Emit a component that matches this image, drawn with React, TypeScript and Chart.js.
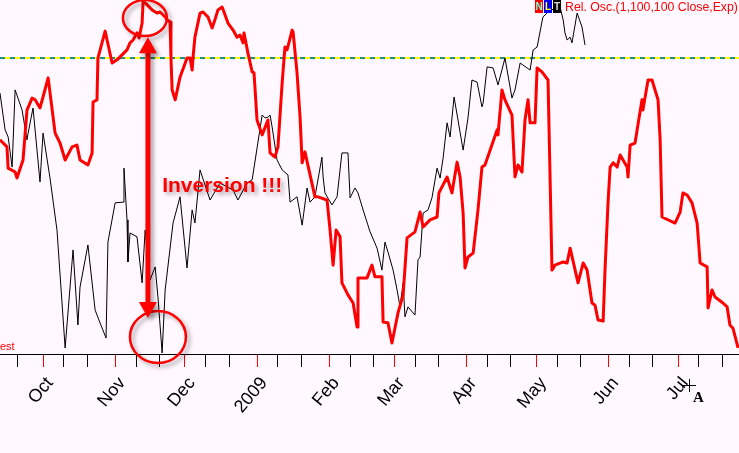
import { useEffect, useRef } from 'react';
import { Chart, registerables } from 'chart.js';

Chart.register(...registerables);

// x = calendar days since 2008-10-01, y = oscillator units (0..100)
const xMinDay = -18.5;
const xMaxDay = 299.2;

const monthTickDays = [0, 31, 61, 92, 123, 151, 182, 212, 243, 273];
const monthTickLabels = ['Oct', 'Nov', 'Dec', '2009', 'Feb', 'Mar', 'Apr', 'May', 'Jun', 'Jul'];
const minorTickDays = [-11, 9, 19, 40, 50, 70, 80, 101, 111, 132, 142, 160, 170, 191, 201, 221, 231, 252, 262, 282, 292];

const levelValue = 83.6;

// Rel. Osc.(1,100,100 Close,Exp) — [day, value]
const relOscSeries: [number, number][] = [
  [-18.5, 60.5], [-15.5, 58.5], [-15.0, 52.5], [-12.0, 51.4], [-11.2, 49.7], [-8.6, 54.8], [-6.9, 68.9], [-4.7, 72.3], [-3.4, 71.8], [-1.3, 69.5],
  [0, 72.6], [2.2, 78.0], [5.2, 62.4], [7.3, 59.6], [9.5, 54.8], [12.5, 58.5], [14.6, 59.0], [15.9, 54.8], [19.3, 53.4], [21.1, 56.8],
  [21.5, 71.2], [23.2, 71.8], [23.6, 83.6], [26.7, 91.2], [29.7, 82.2], [31.8, 83.1], [36.1, 85.9], [37.4, 87.9], [38.7, 88.7], [40.4, 90.7],
  [41.3, 89.3], [42.6, 93.5], [43.0, 99.4], [43.9, 99.2], [46.9, 97.2], [49.0, 96.3], [50.3, 96.6], [52.5, 95.2], [53.3, 94.4], [54.6, 93.8],
  [55.0, 83.6], [55.5, 74.6], [56.8, 71.8], [58.9, 78.2], [61.9, 83.6], [63.2, 83.6], [64.1, 80.2], [64.5, 83.9], [65.3, 89.5], [67.5, 96.3],
  [68.8, 96.6], [70.9, 95.2], [72.7, 92.1], [73.9, 94.4], [75.2, 97.2], [77.0, 98.0], [79.5, 93.5], [81.7, 91.5], [83.4, 89.5], [84.7, 90.1],
  [86.0, 87.9], [86.4, 90.7], [88.1, 85.0], [89.9, 79.7], [90.7, 79.4], [92.0, 66.1], [94.2, 61.9], [96.7, 66.1], [97.6, 56.8], [99.7, 55.6],
  [101.0, 58.5], [102.8, 76.6], [104.0, 86.7], [104.9, 85.9], [107.1, 91.5], [107.5, 91.0], [109.2, 79.4], [110.5, 66.9], [111.4, 54.0], [112.6, 57.1],
  [114.8, 50.6], [116.9, 44.4], [118.2, 44.4], [122.1, 43.5], [123.4, 35.0], [124.7, 25.1], [126.0, 35.0], [127.7, 33.1], [128.5, 20.1], [131.1, 16.7],
  [133.3, 14.4], [135.0, 7.6], [135.4, 21.5], [139.3, 21.5], [141.4, 25.1], [142.7, 21.8], [145.7, 21.8], [146.2, 9.0], [148.3, 8.8], [150.0, 3.1],
  [152.6, 11.6], [154.8, 16.7], [156.5, 32.8], [159.9, 34.5], [162.1, 40.1], [163.4, 35.9], [166.4, 37.9], [169.4, 38.7], [170.2, 45.5], [173.7, 50.0],
  [175.8, 45.5], [178.0, 54.2], [179.3, 50.0], [180.6, 39.8], [181.4, 24.3], [182.7, 27.4], [184.9, 28.5], [187.0, 40.7], [188.7, 52.8], [190.0, 53.4],
  [195.2, 63.3], [195.6, 61.9], [197.3, 74.6], [198.6, 71.8], [201.6, 67.5], [202.9, 50.0], [204.2, 53.4], [205.9, 51.4], [207.2, 66.1], [208.5, 71.8],
  [209.4, 65.3], [211.5, 65.3], [212.4, 80.8], [214.5, 79.7], [217.1, 77.4], [218.0, 49.2], [218.8, 23.7], [220.1, 25.1], [223.6, 26.0], [225.3, 25.7],
  [226.6, 29.9], [230.0, 20.1], [232.2, 25.7], [233.9, 23.7], [236.0, 14.4], [237.3, 13.8], [238.6, 9.6], [240.8, 9.3], [241.6, 23.7], [242.9, 42.7],
  [243.8, 52.8], [245.1, 54.0], [246.8, 52.8], [248.1, 56.2], [251.1, 52.8], [251.5, 50.0], [252.4, 59.0], [254.5, 59.6], [257.5, 71.8], [257.9, 68.9],
  [260.1, 77.4], [261.8, 77.4], [264.4, 71.8], [265.3, 60.5], [266.1, 38.7], [271.7, 37.0], [273.9, 40.1], [275.1, 45.5], [276.9, 44.9], [279.0, 42.7],
  [281.2, 37.0], [282.5, 25.7], [285.5, 24.6], [285.9, 13.0], [287.6, 18.1], [288.9, 16.1], [292.3, 14.4], [294.1, 13.3], [295.3, 8.2], [296.6, 7.3], [298.8, 1.7],
];

// Price (black) — [day, value]
const priceSeries: [number, number][] = [
  [-18.5, 73.7], [-16.3, 63.3], [-15.0, 61.3], [-13.3, 52.8], [-12.0, 74.6], [-9.0, 68.9], [-6.9, 60.5], [-6.4, 62.4], [-4.3, 69.5], [-1.3, 48.6],
  [0, 62.4], [3.0, 49.7], [6.0, 35.0], [9.5, 1.7], [12.9, 29.4], [15.0, 8.2], [15.9, 18.9], [19.3, 30.8], [22.4, 12.4], [24.5, 8.8],
  [27.1, 4.5], [27.9, 31.6], [31.0, 42.7], [34.4, 42.9], [34.8, 52.5], [36.1, 37.9], [36.5, 26.0], [37.4, 34.2], [40.4, 33.1], [42.6, 20.1],
  [43.9, 35.0], [46.0, 20.9], [48.2, 24.6], [49.4, 16.1], [51.2, 0.3], [52.5, 18.1], [55.9, 37.0], [58.9, 44.4], [61.9, 24.3], [64.1, 40.7],
  [65.3, 37.0], [67.5, 52.0], [71.8, 43.5], [76.1, 48.3], [81.7, 46.3], [83.8, 43.5], [87.7, 48.3], [89.9, 49.2], [94.2, 67.5], [95.5, 66.7],
  [96.7, 66.9], [97.6, 67.5], [98.5, 64.1], [100.6, 54.8], [102.8, 52.0], [105.3, 50.6], [106.2, 42.9], [109.2, 44.4], [111.4, 36.4], [113.5, 46.9],
  [114.8, 42.9], [116.9, 44.4], [119.9, 55.6], [120.4, 50.0], [121.2, 45.5], [124.2, 42.1], [126.4, 44.4], [128.5, 56.8], [131.1, 56.8], [132.0, 44.1],
  [134.1, 46.9], [135.4, 45.5], [137.6, 40.7], [140.6, 34.5], [143.6, 29.9], [145.7, 23.7], [147.0, 31.6], [148.3, 28.8], [150.5, 23.7], [152.2, 18.1],
  [153.5, 13.3], [154.8, 20.1], [155.6, 10.5], [156.9, 13.3], [159.9, 11.0], [161.2, 26.6], [162.1, 27.4], [163.4, 39.8], [165.5, 40.7], [167.2, 44.1],
  [169.4, 52.5], [170.7, 49.7], [172.0, 55.4], [173.7, 65.3], [175.0, 61.3], [176.7, 72.6], [180.6, 57.6], [182.7, 66.7], [184.4, 77.4], [186.6, 76.8],
  [188.7, 69.8], [189.2, 70.9], [190.9, 81.1], [193.5, 80.8], [195.6, 76.0], [198.6, 83.6], [201.6, 72.3], [202.9, 74.6], [205.1, 82.2], [209.4, 80.2],
  [210.7, 85.9], [212.4, 86.7], [214.9, 95.2], [216.7, 96.3], [218.0, 98.0], [220.1, 96.6], [222.3, 98.0], [223.6, 94.4], [224.4, 90.7], [225.3, 88.7],
  [226.6, 89.5], [227.4, 87.9], [229.6, 96.3], [231.7, 92.4], [233.0, 87.3],
];

// annotation anchors in data units
const peakCircle = { day: 43.8, value: 94.9 };
const troughCircle = { day: 49.4, value: 4.8 };
const arrowSpan = { day: 45.1, top: 89.5, bottom: 10.2 };
const inversionText = { day: 51.2, value: 45.8, text: 'Inversion !!!' };
const indicatorTitle = 'Rel. Osc.(1,100,100 Close,Exp)';

const FONT = "'Liberation Sans', Arial, Helvetica, sans-serif";
const BG = '#FFF8FF';

const tickLabelFor = new Map<number, string>(monthTickDays.map((d, i) => [d, monthTickLabels[i]]));

const backgroundPlugin = {
  id: 'bg',
  beforeDraw(chart: any) {
    const { ctx, width, height } = chart;
    ctx.save();
    ctx.fillStyle = BG;
    ctx.fillRect(0, 0, width, height);
    ctx.restore();
  },
};

const annotationPlugin = {
  id: 'annot',
  afterDraw(chart: any) {
    const { ctx } = chart;
    const x = chart.scales.x;
    const y = chart.scales.y;
    ctx.save();
    ctx.shadowColor = 'rgba(0,0,0,0.35)';
    ctx.shadowBlur = 4;
    ctx.shadowOffsetX = 3;
    ctx.shadowOffsetY = 3;
    ctx.strokeStyle = '#FF0000';
    ctx.fillStyle = '#FF0000';
    ctx.lineWidth = 2.5;

    ctx.beginPath();
    ctx.ellipse(x.getPixelForValue(peakCircle.day), y.getPixelForValue(peakCircle.value), 22, 18, 0, 0, Math.PI * 2);
    ctx.stroke();

    ctx.beginPath();
    ctx.ellipse(x.getPixelForValue(troughCircle.day), y.getPixelForValue(troughCircle.value), 28, 26, 0, 0, Math.PI * 2);
    ctx.stroke();

    // double arrow
    const ax = x.getPixelForValue(arrowSpan.day);
    const ay1 = y.getPixelForValue(arrowSpan.top);
    const ay2 = y.getPixelForValue(arrowSpan.bottom);
    const headL = 16;
    const headW = 9;
    ctx.lineWidth = 5;
    ctx.beginPath();
    ctx.moveTo(ax, ay1 + headL - 2);
    ctx.lineTo(ax, ay2 - headL + 2);
    ctx.stroke();
    ctx.beginPath();
    ctx.moveTo(ax, ay1);
    ctx.lineTo(ax - headW, ay1 + headL);
    ctx.lineTo(ax + headW, ay1 + headL);
    ctx.closePath();
    ctx.fill();
    ctx.beginPath();
    ctx.moveTo(ax, ay2);
    ctx.lineTo(ax - headW, ay2 - headL);
    ctx.lineTo(ax + headW, ay2 - headL);
    ctx.closePath();
    ctx.fill();

    ctx.font = `bold 21px ${FONT}`;
    ctx.textAlign = 'left';
    ctx.textBaseline = 'alphabetic';
    ctx.fillText(inversionText.text, x.getPixelForValue(inversionText.day), y.getPixelForValue(inversionText.value));
    ctx.restore();

    // indicator title with N L T boxes
    ctx.save();
    const boxes = [
      { t: 'N', bg: '#FF0000', fg: '#7FFFD0' },
      { t: 'L', bg: '#0000FF', fg: '#FFFF00' },
      { t: 'T', bg: '#000000', fg: '#DDDDDD' },
    ];
    let bx = 535;
    ctx.font = `bold 10px ${FONT}`;
    ctx.textAlign = 'center';
    ctx.textBaseline = 'middle';
    boxes.forEach((b) => {
      ctx.fillStyle = b.bg;
      ctx.fillRect(bx, 0, 8, 13);
      ctx.fillStyle = b.fg;
      ctx.fillText(b.t, bx + 4, 7);
      bx += 9;
    });
    ctx.fillStyle = '#FF0000';
    ctx.font = `12.3px ${FONT}`;
    ctx.textAlign = 'left';
    ctx.textBaseline = 'alphabetic';
    ctx.fillText(indicatorTitle, 565, 11);

    ctx.font = `11px ${FONT}`;
    ctx.fillText('est', 0, 350);

    // cursor artefact
    ctx.strokeStyle = '#000';
    ctx.lineWidth = 1;
    ctx.beginPath();
    ctx.moveTo(683, 385.5);
    ctx.lineTo(696, 385.5);
    ctx.moveTo(689.5, 379);
    ctx.lineTo(689.5, 392);
    ctx.stroke();
    ctx.fillStyle = '#000';
    ctx.font = `bold 15px 'Liberation Serif', 'Times New Roman', serif`;
    ctx.fillText('A', 693, 402);
    ctx.restore();
  },
};

export default function App() {
  const ref = useRef<HTMLCanvasElement | null>(null);

  useEffect(() => {
    if (!ref.current) return;
    const chart = new Chart(ref.current, {
      type: 'line',
      data: {
        datasets: [
          {
            label: 'Rel. Osc.',
            data: relOscSeries.map(([d, v]) => ({ x: d, y: v })),
            borderColor: '#FF0000',
            borderWidth: 3,
            pointRadius: 0,
            tension: 0,
            borderJoinStyle: 'round',
            clip: false,
            order: 0,
          },
          {
            label: 'Price',
            data: priceSeries.map(([d, v]) => ({ x: d, y: v })),
            borderColor: '#000000',
            borderWidth: 1,
            pointRadius: 0,
            tension: 0,
            clip: false,
            order: 1,
          },
          {
            label: 'Level',
            data: [{ x: xMinDay, y: levelValue }, { x: xMaxDay, y: levelValue }],
            borderColor: '#FFFF00',
            borderWidth: 2,
            pointRadius: 0,
            order: 3,
          },
          {
            label: 'Level dash',
            data: [{ x: xMinDay, y: levelValue }, { x: xMaxDay, y: levelValue }],
            borderColor: '#1E8A8A',
            borderWidth: 2,
            borderDash: [5, 5],
            pointRadius: 0,
            order: 2,
          },
        ],
      } as any,
      options: {
        animation: false,
        responsive: false,
        maintainAspectRatio: false,
        layout: { padding: 0 },
        plugins: { legend: { display: false }, tooltip: { enabled: false } },
        scales: {
          x: {
            type: 'linear',
            min: xMinDay,
            max: xMaxDay,
            afterBuildTicks: (scale: any) => {
              const t = [
                ...monthTickDays.map((v) => ({ value: v, major: true })),
                ...minorTickDays.map((v) => ({ value: v, major: false })),
              ].sort((a, b) => a.value - b.value);
              scale.ticks = t;
            },
            afterFit: (scale: any) => {
              scale.height = 99;
              scale.paddingLeft = 0;
              scale.paddingRight = 0;
            },
            grid: {
              drawOnChartArea: false,
              drawTicks: true,
              tickLength: 13,
              lineWidth: 1,
              color: (ctx: any) => (ctx.tick && ctx.tick.major ? '#FF0000' : '#000000'),
            },
            border: { display: true, color: '#000000', width: 1 },
            ticks: {
              autoSkip: false,
              minRotation: 50,
              maxRotation: 50,
              padding: 6,
              labelOffset: 7,
              color: '#000000',
              font: { family: FONT, size: 18 },
              callback: (v: any) => tickLabelFor.get(Number(v)) ?? '',
            },
          },
          y: { display: false, min: 0, max: 100 },
        },
      } as any,
      plugins: [backgroundPlugin, annotationPlugin],
    });
    return () => chart.destroy();
  }, []);

  return (
    <div style={{ position: 'fixed', left: 0, top: 0, width: 739, height: 453, background: BG }}>
      <canvas ref={ref} width={739} height={453} style={{ display: 'block', width: 739, height: 453 }} />
    </div>
  );
}
